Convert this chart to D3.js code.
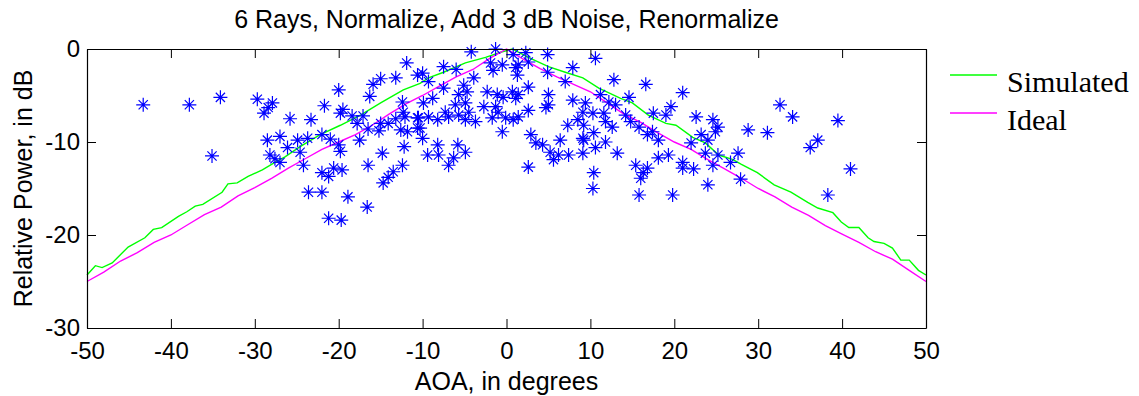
<!DOCTYPE html>
<html>
<head>
<meta charset="utf-8">
<script src="https://cdn.jsdelivr.net/npm/d3@7"></script>
<style>
  body { margin: 0; background: #fff; }
  svg text { font-family: "Liberation Sans", Arial, sans-serif; fill: #000; }
</style>
</head>
<body>
<div id="main"></div>
<script>
// title / labels
const title = "6 Rays, Normalize, Add 3 dB Noise, Renormalize";
const xLabel = "AOA, in degrees";
const yLabel = "Relative Power, in dB";
const legendNames = ["Simulated", "Ideal"];

const xTicks = [-50, -40, -30, -20, -10, 0, 10, 20, 30, 40, 50];
const yTicks = [-30, -20, -10, 0];

// simulated curve (green)
const simX = [-50,-49,-48.2,-47,-45.1,-43.1,-42.1,-41.1,-39.1,-38.1,-37.1,-36.2,-33.9,-33.2,-32.1,-30.8,-29.1,-27.6,-26.4,-24.6,-22.2,-19.8,-17.4,-15,-12.3,-10.3,-9.3,-7.5,-4.9,-2.5,-0.5,0.7,2.6,5,7,9.1,11,13.6,15,16.9,19,20.2,22.2,23.7,25.3,27,28,29.9,31.9,33.9,35.9,37.1,38.9,39.9,40.8,42,43.1,43.8,45,46,47,48,49.1,50];
const simY = [-24.3,-23.3,-23.5,-23.0,-21.3,-20.3,-19.4,-19.2,-18.0,-17.5,-16.9,-16.7,-15.4,-14.5,-14.4,-13.7,-13.0,-12.2,-11.6,-10.5,-9.2,-8.2,-7.1,-5.8,-4.4,-3.7,-3.1,-2.5,-1.5,-0.9,-0.3,0,-0.9,-1.9,-2.5,-3.1,-4.2,-5.3,-5.8,-7.1,-8.0,-8.2,-9.5,-10.1,-11.4,-11.9,-12.4,-13.3,-14.6,-15.4,-16.5,-17.1,-17.6,-18.6,-19.2,-19.2,-20.3,-20.7,-20.9,-21.4,-22.7,-22.7,-23.8,-24.3];

// ideal curve (magenta)
const idealX = [-50,-48,-46,-44,-42,-40,-38,-36,-34,-32,-30,-28,-26,-24,-22,-20,-18,-16,-14,-12,-10,-8,-6,-4,-2,0,2,4,6,8,10,12,14,16,18,20,22,24,26,28,30,32,34,36,38,40,42,44,46,48,50];
const idealY = [-25.0,-24.0,-22.8,-21.9,-20.8,-20.0,-18.9,-17.8,-17.0,-15.8,-14.9,-13.9,-12.8,-11.8,-10.8,-10.0,-9.2,-8.2,-7.0,-5.9,-5.0,-4.0,-3.0,-2.2,-1.0,0,-1.1,-2.1,-3.0,-3.8,-4.6,-5.8,-7.0,-7.9,-9.0,-10.0,-10.8,-11.9,-12.9,-13.9,-15.0,-15.9,-17.0,-17.9,-19.0,-19.9,-20.8,-21.8,-22.6,-23.8,-25.0];

// measured rays (blue asterisks)
const rayAoa = [
  -43.3,-37.8,-34.1,-35.1,-29.7,-27.9,-28.4,-28.9,-28.5,-27.0,-28.2,-27.6,-27.0,
  -11.9,-13.2,-15.0,-15.9,-16.3,-10.6,-20.0,-21.7,-19.5,-19.8,-18.4,-17.1,-17.8,-25.8,-23.3,
  -24.9,-23.7,-22.0,-21.0,-26.1,-24.6,-20.0,-19.8,-17.5,-16.5,-15.2,-15.0,-14.1,-13.2,-12.4,
  -12.3,-12.1,-12.6,-11.8,-12.2,-14.8,-16.5,-24.2,-22.0,-21.2,-20.6,-19.6,-12.4,-13.5,-14.1,
  -14.7,-23.6,-22.0,-18.9,-16.6,-21.2,-19.7,-10.6,-10.6,
  -4.2,-1.3,0.8,-7.5,-6.0,-10.0,-3.9,-1.9,-1.6,-0.5,1.1,1.3,-9.3,-7.5,-5.1,-4.7,-5.7,-8.8,
  -9.9,-2.3,-1.1,-0.4,0.7,1.1,-6.1,-4.9,-4.5,-5.7,-2.7,-1.3,-1.0,-1.7,-0.1,0.8,-7.3,-6.9,
  -8.2,-10.5,-9.3,-3.7,-4.9,-10.3,-10.0,-0.5,-8.2,-5.8,-9.4,-8.1,-4.9,-6.3,-6.9,
  2.3,4.9,10.6,1.4,2.6,4.9,7.9,7.0,12.8,2.6,5.0,1.4,7.9,9.4,11.2,12.2,2.6,4.7,5.0,1.4,9.1,
  10.3,11.6,7.3,8.5,9.2,11.8,12.6,9.1,10.4,2.9,3.5,4.3,6.4,9.2,11.8,5.2,6.2,7.4,9.1,10.6,
  13.2,5.6,2.6,10.4,10.3,
  16.6,14.6,21.0,13.0,14.2,14.8,15.8,17.5,19.0,19.6,22.6,24.6,25.2,24.9,28.8,23.2,24.0,
  22.0,16.8,17.4,18.1,18.1,19.3,23.7,25.2,26.7,27.6,21.0,21.0,22.3,24.6,15.4,16.8,16.3,
  16.0,27.9,24.0,15.8,19.8,
  32.6,34.1,39.5,31.1,37.1,36.2,41.0,38.3
];
const rayPower = [
  -6.0,-6.0,-5.2,-11.5,-5.4,-5.8,-6.3,-6.9,-9.8,-9.4,-11.4,-11.8,-12.2,
  -1.5,-3.1,-3.2,-3.8,-5.1,-2.8,-4.4,-6.1,-6.5,-6.9,-7.2,-7.2,-8.0,-7.5,-7.6,
  -9.8,-9.6,-9.2,-9.7,-10.6,-11.1,-10.3,-11.0,-9.8,-8.6,-8.8,-8.0,-8.0,-7.5,-5.7,
  -6.8,-7.3,-8.7,-8.9,-10.5,-11.2,-12.5,-12.5,-13.3,-13.7,-12.8,-13.0,-12.5,-13.2,-13.8,
  -14.4,-15.4,-15.4,-15.9,-17.0,-18.2,-18.4,-7.4,-8.5,
  -0.3,0,-0.6,-1.9,-2.2,-2.6,-3.1,-1.5,-2.3,-1.7,-2.0,-2.8,-3.5,-4.2,-3.9,-4.6,-4.9,-5.3,
  -5.8,-4.6,-4.9,-5.2,-4.6,-5.3,-6.0,-5.8,-6.8,-7.1,-6.2,-6.2,-6.8,-7.4,-7.4,-7.6,-6.8,-7.3,
  -7.6,-7.4,-7.3,-7.8,-7.6,-8.5,-9.6,-8.9,-10.3,-10.3,-11.4,-11.4,-11.1,-11.7,-12.5,
  -0.4,-0.6,-1.0,-1.7,-1.4,-2.5,-2.0,-3.5,-3.3,-4.1,-4.9,-4.9,-5.5,-5.8,-4.9,-5.7,-6.6,-6.3,-6.0,-7.3,-6.8,
  -6.9,-6.9,-8.2,-7.6,-8.2,-7.8,-8.4,-9.6,-9.0,-9.2,-10.1,-10.3,-9.8,-9.8,-10.0,-11.1,-11.4,-11.4,-11.2,-10.6,
  -11.2,-11.9,-12.7,-13.3,-15.0,
  -3.8,-5.2,-4.7,-6.0,-7.1,-7.8,-8.4,-6.9,-7.1,-6.2,-7.3,-7.6,-8.4,-8.9,-8.7,-9.2,-9.8,
  -10.1,-9.2,-8.9,-9.8,-11.7,-11.4,-11.2,-11.4,-12.2,-11.2,-12.2,-12.8,-12.9,-12.5,-12.5,-12.8,-13.3,
  -13.9,-14.0,-14.6,-15.7,-15.7,
  -6.0,-7.3,-7.7,-9.0,-9.8,-10.6,-12.9,-15.7
];

const W = 1139, H = 396;
const margin = { left: 87, right: 1139 - 926, top: 49, bottom: 396 - 328 };

const svg = d3.select('#main').append('svg')
    .attr('width', W).attr('height', H)
    .style('display', 'block');

let x = d3.scaleLinear().domain([-50, 50]).range([margin.left, W - margin.right]);
let y = d3.scaleLinear().domain([-30, 0]).range([H - margin.bottom, margin.top]);

// curves
let line = d3.line().x(d => x(d[0])).y(d => y(d[1]));

svg.append('path')
    .datum(d3.zip(simX, simY))
    .attr('fill', 'none').attr('stroke', '#00ff00').attr('stroke-width', 1.4)
    .attr('d', line);

svg.append('path')
    .datum(d3.zip(idealX, idealY))
    .attr('fill', 'none').attr('stroke', '#ff00ff').attr('stroke-width', 1.4)
    .attr('d', line);

// asterisk markers (matlab '*')
const star = "M-7,0H7M0,-7V7M-4.6,-4.6L4.6,4.6M-4.6,4.6L4.6,-4.6";
svg.append('g')
    .selectAll('path')
    .data(d3.zip(rayAoa, rayPower))
    .enter()
    .append('path')
    .attr('d', star)
    .attr('transform', d => `translate(${x(d[0])},${y(d[1])})`)
    .attr('fill', 'none')
    .attr('stroke', '#0000ff')
    .attr('stroke-width', 1.2);

// axes (ticks inward, box all round)
const tick = 9;
const fmt = d => String(d);
let gx = svg.append('g')
    .attr('transform', `translate(0,${y(-30)})`)
    .call(d3.axisBottom(x).tickValues(xTicks).tickSizeInner(-tick).tickSizeOuter(0).tickPadding(14).tickFormat(fmt));
let gxTop = svg.append('g')
    .attr('transform', `translate(0,${y(0)})`)
    .call(d3.axisTop(x).tickValues(xTicks).tickSizeInner(-tick).tickSizeOuter(0).tickFormat(''));
let gy = svg.append('g')
    .attr('transform', `translate(${x(-50)},0)`)
    .call(d3.axisLeft(y).tickValues(yTicks).tickSizeInner(-tick).tickSizeOuter(0).tickPadding(7).tickFormat(fmt));
let gyRight = svg.append('g')
    .attr('transform', `translate(${x(50)},0)`)
    .call(d3.axisRight(y).tickValues(yTicks).tickSizeInner(-tick).tickSizeOuter(0).tickFormat(''));

[gx, gxTop, gy, gyRight].forEach(g => {
    g.selectAll('.domain').attr('stroke', '#000').attr('stroke-width', 1.2);
    g.selectAll('.tick line').attr('stroke', '#000');
    g.selectAll('text')
        .style('font-family', '"Liberation Sans", Arial, sans-serif')
        .style('font-size', '24px')
        .attr('fill', '#000');
});

// title and labels
svg.append('text')
    .attr('x', (x(-50) + x(50)) / 2).attr('y', 28)
    .attr('text-anchor', 'middle')
    .style('font-size', '25px')
    .text(title);

svg.append('text')
    .attr('x', (x(-50) + x(50)) / 2).attr('y', 390)
    .attr('text-anchor', 'middle')
    .style('font-size', '25px')
    .text(xLabel);

svg.append('text')
    .attr('transform', `translate(32,${(y(0) + y(-30)) / 2}) rotate(-90)`)
    .attr('text-anchor', 'middle')
    .style('font-size', '25px')
    .text(yLabel);

// legend
const legendColors = ['#00ff00', '#ff00ff'];
let legend = svg.append('g');
legendNames.forEach((name, i) => {
    let ly = 75 + i * 38;
    legend.append('line')
        .attr('x1', 950).attr('x2', 997)
        .attr('y1', ly).attr('y2', ly)
        .attr('stroke', legendColors[i]).attr('stroke-width', 1.4);
    legend.append('text')
        .attr('x', 1007).attr('y', ly + 17)
        .style('font-family', '"Liberation Serif", "Times New Roman", serif')
        .style('font-size', '30px')
        .text(name);
});
</script>
</body>
</html>
